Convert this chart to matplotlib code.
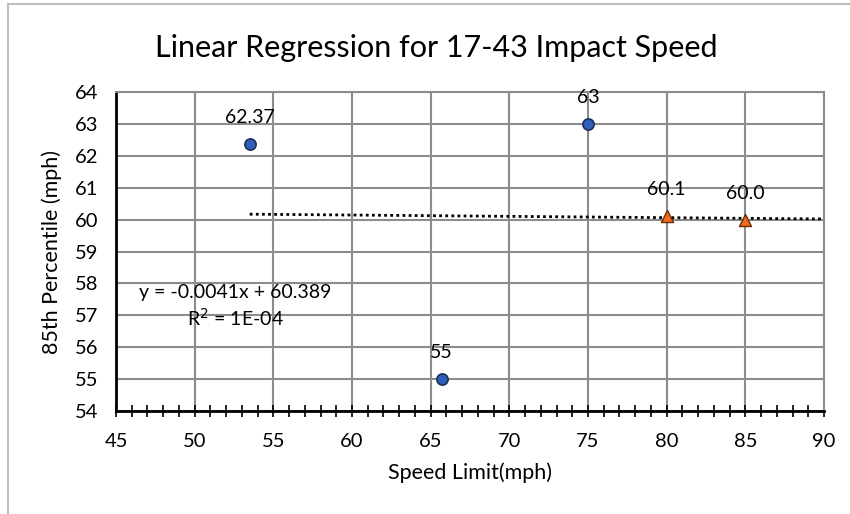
import numpy as np
import matplotlib.pyplot as plt
from matplotlib.lines import Line2D
from matplotlib.ticker import MultipleLocator

plt.rcParams['font.family'] = ['Lato', 'DejaVu Sans']

# data
circle_x = [53.5, 75, 65.7]
circle_y = [62.37, 63, 55]
circle_labels = ['62.37', '63', '55']
tri_x = [80, 85]
tri_y = [60.1, 60.0]
tri_labels = ['60.1', '60.0']
slope = -0.0041
intercept = 60.389
trend_range = [53.5, 90]

fig = plt.figure(figsize=(8.5, 5.14), dpi=100)
ax = fig.add_axes([0.1365, 0.2004, 0.8329, 0.6206])

# outer frame (left and top only)
fig.add_artist(Line2D([8/850, 8/850], [0, 1 - 4/514], color='#bfbfbf', lw=1.5))
fig.add_artist(Line2D([8/850, 1], [1 - 4/514, 1 - 4/514], color='#bfbfbf', lw=1.5))

ax.set_xlim(45, 90)
ax.set_ylim(54, 64)
ax.xaxis.set_major_locator(MultipleLocator(5))
ax.xaxis.set_minor_locator(MultipleLocator(1))
ax.yaxis.set_major_locator(MultipleLocator(1))
ax.grid(True, which='major', color='#8c8c8c', lw=1.5)
ax.set_axisbelow(True)

ax.tick_params(axis='x', which='both', direction='inout', length=8, width=1.2,
               color='black', labelsize=14.5, pad=12)
ax.tick_params(axis='y', length=0, labelsize=14.5, pad=13)
for s in ['top', 'right']:
    ax.spines[s].set_color('#8c8c8c')
    ax.spines[s].set_linewidth(1.5)
ax.spines['left'].set_color('black')
ax.spines['left'].set_linewidth(2)
ax.spines['bottom'].set_color('black')
ax.spines['bottom'].set_linewidth(2)

# trendline
tx = np.array(trend_range)
ax.plot(tx, slope * tx + intercept, color='black', lw=2, ls=(0, (1, 1.2)), zorder=3)

ax.scatter(circle_x, circle_y, s=65, color='#2f5fb8', edgecolor='#1a2f5a', lw=1.2, zorder=4)
ax.scatter(tri_x, tri_y, s=75, marker='^', color='#ed6d1f', edgecolor='#6b2a05', lw=1.0, zorder=4)

for x, y, t in zip(circle_x, circle_y, circle_labels):
    ax.annotate(t, (x, y), xytext=(0, 13), textcoords='offset points',
                ha='center', va='bottom', fontsize=14)
for x, y, t in zip(tri_x, tri_y, tri_labels):
    ax.annotate(t, (x, y), xytext=(0, 13), textcoords='offset points',
                ha='center', va='bottom', fontsize=14)

ax.text(52.6, 57.72, 'y = -0.0041x + 60.389', ha='center', va='center', fontsize=14)
ax.text(52.6, 56.92, 'R$^2$ = 1E-04', ha='center', va='center', fontsize=14)

fig.text(436/850, 1 - 48/514, 'Linear Regression for 17-43 Impact Speed',
         ha='center', va='center', fontsize=22)
ax.set_xlabel('Speed Limit(mph)', fontsize=15.5, labelpad=9)
ax.set_ylabel('85th Percentile (mph)', fontsize=15.5, labelpad=9)

fig.savefig('out.png', dpi=100)
